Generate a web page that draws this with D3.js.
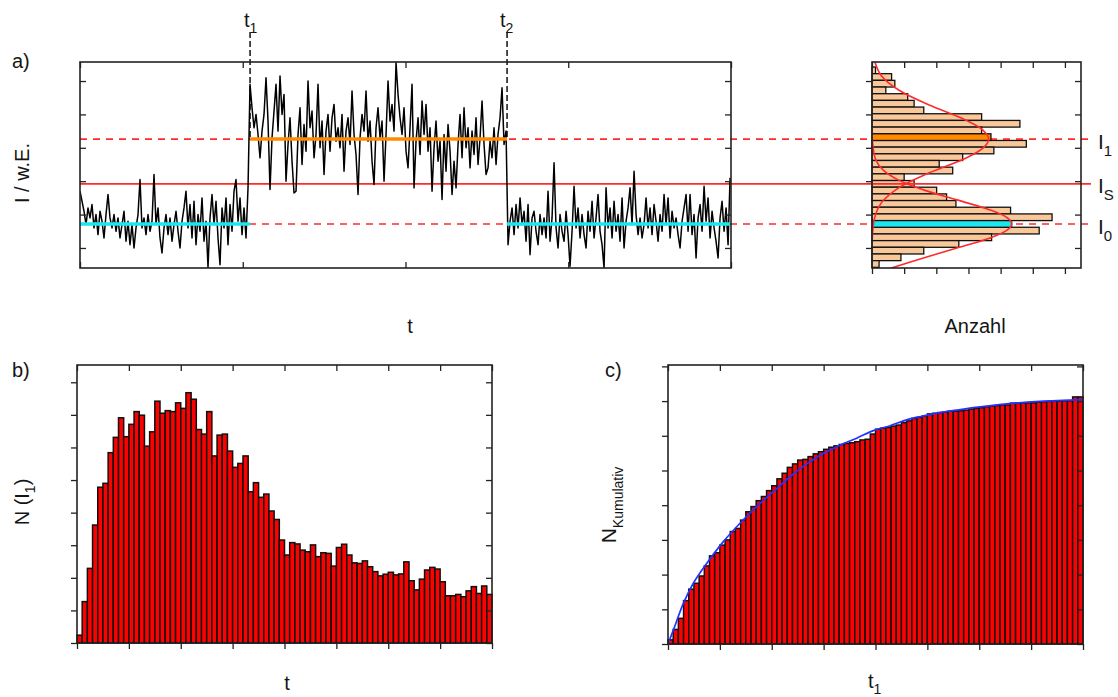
<!DOCTYPE html>
<html><head><meta charset="utf-8">
<script src="https://cdn.jsdelivr.net/npm/d3@7"></script>
<style>
body{margin:0;background:#fff}
text{font-family:Arial,"Liberation Sans",sans-serif;fill:#151515}
</style>
</head><body>
<svg id="c" width="1118" height="697"></svg>
<script>
// ---------------- DATA ----------------
// a) intensity trace (I in arbitrary units), sampled uniformly
const traceLow1 = [2.7,2.4,2.1,1.7,2.2,1.9,2.3,1.6,2.0,1.4,
 2.1,1.8,1.3,2.0,2.6,1.9,1.6,2.0,1.5,1.9,
 1.3,1.7,2.1,1.2,1.8,1.1,1.7,1.0,1.6,2.0,
 3.05,1.6,1.9,1.4,2.0,1.5,1.8,3.2,1.7,2.2,
 1.3,0.85,1.6,2.0,1.4,1.9,1.2,1.7,2.1,1.5,
 1.0,1.8,2.2,2.7,1.6,2.3,1.3,2.4,1.1,2.0,
 1.5,2.5,1.2,1.8,0.42,1.9,2.6,1.7,2.4,1.3,
 0.5,2.2,1.6,2.5,1.1,2.3,1.5,2.7,3.05,1.8,
 2.5,1.4,2.2,1.3,2.8];
const traceHigh = [5.9,5.2,4.6,5.0,4.4,3.7,4.5,5.0,6.1,4.8,
 2.75,4.3,5.1,5.9,4.5,6.15,5.0,5.6,3.0,4.1,
 4.9,3.6,2.65,2.7,4.4,5.2,3.5,4.7,3.9,6.0,
 4.6,5.1,3.7,4.4,5.9,4.0,4.8,3.2,4.5,5.0,
 3.9,4.9,5.3,4.2,4.6,4.0,5.0,3.3,4.5,4.9,
 4.1,5.7,4.4,3.8,2.6,4.3,5.0,4.5,5.7,4.2,
 4.8,3.6,2.9,4.6,5.2,4.3,4.8,3.0,4.4,6.0,
 4.8,5.3,4.5,6.55,5.6,4.9,4.4,5.2,3.9,3.4,
 4.6,5.9,2.8,4.2,4.9,3.8,5.4,4.4,5.3,3.9,
 4.6,2.7,4.0,4.8,3.6,4.2,2.45,4.4,3.3,4.7,
 3.9,2.6,3.6,2.8,4.1,5.0,3.7,5.2,4.0,4.6,
 3.4,4.5,3.8,4.9,3.5,4.3,5.4,4.1,3.2,3.4,
 4.2,3.7,4.6,3.5,4.4,4.9,5.8,4.1,4.5];
const traceLow2 = [1.1,1.8,2.2,1.4,2.3,1.6,2.5,1.7,2.1,1.2,
 2.3,0.8,1.9,2.1,1.5,1.1,2.0,1.4,1.9,1.3,
 2.7,1.2,1.9,3.55,1.6,1.0,2.0,1.5,1.2,2.1,
 1.4,0.45,1.5,2.85,1.6,2.2,1.3,2.0,1.4,1.0,
 2.1,1.5,2.4,1.3,1.9,2.6,1.5,1.1,0.4,2.8,
 1.6,2.2,1.3,2.4,1.5,2.0,1.2,2.5,1.0,1.8,
 2.2,2.8,1.7,3.3,2.0,1.4,1.9,1.3,1.7,2.5,
 1.6,2.2,1.4,2.3,1.8,1.2,2.0,1.5,2.6,1.7,
 2.5,1.3,2.1,1.6,1.9,1.4,1.0,1.8,2.2,2.6,
 1.5,2.6,1.4,2.0,0.7,1.9,2.3,1.5,2.85,1.8,
 2.5,1.3,2.1,1.6,1.2,0.7,1.9,2.4,1.5,2.2,
 1.1,3.1];
const traceStep = 0.01229;          // time between samples
const traceTimeMax = 4;
const levelI1 = 4.26, levelIS = 2.92, levelI0 = 1.72;
const t1Time = 1.045, t2Time = 2.624;
const traceXTicks = [0,1,2,3,4];
const intensityTicks = [1,2,3,4,5,6];

// a) intensity histogram ("Anzahl")
const histCenters = [6.32,6.12,5.92,5.72,5.52,5.32,5.12,4.92,4.72,4.52,
 4.32,4.12,3.92,3.72,3.52,3.32,3.12,2.92,2.72,2.52,
 2.32,2.12,1.92,1.72,1.52,1.32,1.12,0.92,0.72,0.52];
const histCounts = [0.11,0.61,0.71,0.43,1.11,1.31,1.61,3.41,4.6,3.41,
 3.7,4.8,3.79,2.82,2.09,2.51,1.0,1.31,2.01,2.32,
 2.61,4.31,5.6,4.34,5.2,3.72,2.7,1.61,0.9,0.22];
const histBinWidth = 0.2;
const histXTicks = [0,1,2,3,4,5,6];
// fitted gaussians: [count, intensity]
const fitUpper = [[0.09,6.57],[0.29,6.16],[0.83,5.73],[1.78,5.28],[2.91,4.83],[3.45,4.53],[3.63,4.26],
 [3.45,3.99],[2.91,3.69],[1.78,3.25],[0.83,2.80],[0.29,2.35],[0.08,1.90],[0.01,1.30]];
const fitLower = [[0.01,4.23],[0.12,3.63],[0.35,3.33],[0.81,3.04],[1.6,2.74],[2.64,2.44],[3.67,2.14],
 [4.21,1.90],[4.35,1.72],[4.21,1.54],[3.67,1.30],[2.64,1.00],[1.6,0.70],[0.6,0.40]];

// b) N(I1) histogram
const nI1Values = [0.24,1.27,2.29,3.62,4.78,4.90,5.84,6.31,6.91,6.33,
 6.71,7.10,6.99,6.04,6.48,7.42,7.05,7.13,7.10,7.37,
 7.20,7.68,7.48,6.55,6.41,7.10,5.74,6.38,6.41,5.89,
 5.39,5.51,5.74,4.64,4.92,4.47,4.57,4.05,3.79,3.16,
 2.70,3.08,3.04,2.85,2.80,3.01,2.65,2.77,2.75,2.36,
 2.93,3.03,2.70,2.46,2.44,2.52,2.34,2.19,2.06,2.11,
 2.17,2.09,2.12,2.49,1.91,1.63,1.96,2.24,2.32,2.27,
 1.88,1.45,1.45,1.49,1.42,1.60,1.73,1.52,1.75,1.49];
const binTicks = [0,10,20,30,40,50,60,70,80];
const countTicks = [0,1,2,3,4,5,6,7,8];

// c) cumulative
const cumValues = [0.12,0.42,0.74,1.25,1.58,1.75,1.96,2.25,2.54,2.63,
 2.85,3.00,3.24,3.33,3.57,3.81,3.96,4.13,4.25,4.42,
 4.56,4.76,4.92,5.09,5.19,5.30,5.32,5.40,5.48,5.54,
 5.61,5.67,5.71,5.75,5.78,5.80,5.83,5.88,5.90,6.05,
 6.19,6.22,6.24,6.28,6.31,6.38,6.43,6.50,6.53,6.57,
 6.63,6.65,6.67,6.68,6.71,6.71,6.72,6.74,6.77,6.79,
 6.81,6.84,6.86,6.87,6.89,6.89,6.94,6.94,6.95,6.95,
 6.95,6.97,6.98,6.99,7.00,7.00,7.01,7.01,7.12,7.12];
const cumFit = [[0,0],[1.03,0.40],[2.96,1.17],[4.88,1.75],[7.45,2.32],[10.67,2.95],[13.88,3.48],
 [17.09,3.96],[20.31,4.39],[23.52,4.82],[26.73,5.19],[29.94,5.49],[33.16,5.73],[36.37,5.93],
 [39.58,6.15],[42.80,6.29],[46.01,6.46],[49.22,6.57],[52.43,6.67],[55.65,6.74],[58.86,6.81],
 [65.29,6.92],[71.71,6.99],[80,7.04]];

// ---------------- DRAWING ----------------
const svg = d3.select('#c');
const AX = '#222';
const RED = '#ff2a2a', ORANGE = '#ff8a00', CYAN = '#1de6ee', PEACH = '#f9c89a';

function axes(xs, ys, xt, yt, mode) {
  const [x0, x1] = xs.range(), [y0, y1] = ys.range();
  const L = 6, s = mode === 'in' ? -1 : 1;
  const g = svg.append('g').attr('color', AX);
  const mk = (ax, tr) => g.append('g').attr('transform', tr).call(ax.tickSizeOuter(0).tickFormat(''))
      .call(a => a.select('.domain').remove()).selectAll('line').attr('stroke-width', 1.3);
  mk(d3.axisBottom(xs).tickValues(xt).tickSize(s * L), `translate(0,${y0})`);
  mk(d3.axisTop(xs).tickValues(xt).tickSize(-L), `translate(0,${y1})`);
  mk(d3.axisLeft(ys).tickValues(yt).tickSize(s * L), `translate(${x0},0)`);
  mk(d3.axisRight(ys).tickValues(yt).tickSize(-L), `translate(${x1},0)`);
  g.append('rect').attr('x', x0).attr('y', y1).attr('width', x1 - x0).attr('height', y0 - y1)
    .attr('fill', 'none').attr('stroke', AX).attr('stroke-width', 1.6);
}

function rich(x, y, parts, size, sub, rotate, anchor) {
  const t = svg.append('text').attr('font-size', size).attr('text-anchor', anchor || 'start');
  if (rotate) t.attr('transform', `translate(${x},${y}) rotate(-90)`);
  else t.attr('x', x).attr('y', y);
  let down = false;
  parts.forEach(([s, isSub]) => {
    const ts = t.append('tspan').text(s);
    if (isSub) { ts.attr('font-size', sub); if (!down) { ts.attr('dy', size * 0.32); down = true; } }
    else if (down) { ts.attr('dy', -size * 0.32); down = false; }
  });
}

// ---- panel a ----
const xA = d3.scaleLinear().domain([0, traceTimeMax]).range([80, 731]);
const yA = d3.scaleLinear().domain([0.4, 6.57]).range([268, 62]);
const xH = d3.scaleLinear().domain([0, 6.5]).range([872, 1081]);

svg.append('clipPath').attr('id', 'clipA').append('rect').attr('x', 80).attr('y', 62).attr('width', 651).attr('height', 206);
svg.append('clipPath').attr('id', 'clipH').append('rect').attr('x', 872).attr('y', 61).attr('width', 209).attr('height', 207);

// histogram bars
const hb = histBinWidth / 2;
const isHi = d => Math.abs(d - levelI1) < 0.1 || Math.abs(d - levelI0) < 0.1;
function histBars(sel) {
  sel.attr('x', xH(0))
    .attr('y', d => yA(d.c + hb))
    .attr('width', d => xH(d.n) - xH(0))
    .attr('height', d => yA(d.c - hb) - yA(d.c + hb))
    .attr('fill', d => Math.abs(d.c - levelI1) < 0.1 ? ORANGE : Math.abs(d.c - levelI0) < 0.1 ? CYAN : PEACH)
    .attr('stroke', '#111').attr('stroke-width', 1.3);
}
const histData = histCenters.map((c, i) => ({c, n: histCounts[i]}));
svg.append('g').selectAll('rect').data(histData.filter(d => !isHi(d.c))).join('rect').call(histBars);

// level lines
const lineEnd = 1091;
[[levelI1, '7,6'], [levelI0, '7,6'], [levelIS, null]].forEach(([lv, dash]) => {
  const l = svg.append('line').attr('x1', xA(0)).attr('x2', lineEnd)
    .attr('y1', yA(lv)).attr('y2', yA(lv)).attr('stroke', RED).attr('stroke-width', 1.6);
  if (dash) l.attr('stroke-dasharray', dash);
});
svg.append('g').selectAll('rect').data(histData.filter(d => isHi(d.c))).join('rect').call(histBars);

// t1 / t2 dashed markers
[t1Time, t2Time].forEach(t => {
  svg.append('line').attr('x1', xA(t)).attr('x2', xA(t)).attr('y1', 32).attr('y2', yA(levelI1))
    .attr('stroke', '#111').attr('stroke-width', 1.5).attr('stroke-dasharray', '6,3');
});

// trace
const traceValues = traceLow1.concat(traceHigh, traceLow2);
svg.append('path').datum(traceValues)
  .attr('clip-path', 'url(#clipA)')
  .attr('d', d3.line().x((d, i) => xA(i * traceStep)).y(d => yA(d)))
  .attr('fill', 'none').attr('stroke', '#000').attr('stroke-width', 1.5).attr('stroke-linejoin', 'round');

// state levels
const segs = [[0, t1Time, levelI0, CYAN], [t1Time, t2Time, levelI1, ORANGE], [t2Time, traceValues.length * traceStep - traceStep, levelI0, CYAN]];
segs.forEach(([a, b, lv, c]) => {
  svg.append('line').attr('x1', xA(a)).attr('x2', xA(b)).attr('y1', yA(lv)).attr('y2', yA(lv))
    .attr('stroke', c).attr('stroke-width', 3.5);
});

// gaussian fits
const fitLine = d3.line().x(d => xH(d[0])).y(d => yA(d[1])).curve(d3.curveCatmullRom);
[fitUpper, fitLower].forEach(f => {
  svg.append('path').datum(f).attr('d', fitLine).attr('clip-path', 'url(#clipH)')
    .attr('fill', 'none').attr('stroke', RED).attr('stroke-width', 1.6);
});

axes(xA, yA, traceXTicks, intensityTicks, 'in');
axes(xH, yA, histXTicks, intensityTicks, 'out');

// ---- panel b ----
const xB = d3.scaleLinear().domain([0, 80]).range([77, 492]);
const yB = d3.scaleLinear().domain([0, 8.53]).range([643, 365]);
svg.append('g').selectAll('rect').data(nI1Values).join('rect')
  .attr('x', (d, i) => xB(i)).attr('width', xB(1) - xB(0))
  .attr('y', d => yB(d)).attr('height', d => yB(0) - yB(d))
  .attr('fill', '#ff0000').attr('stroke', '#111').attr('stroke-width', 1.5);
axes(xB, yB, binTicks, countTicks, 'out');

// ---- panel c ----
const xC = d3.scaleLinear().domain([0, 80]).range([668, 1083]);
const yC = d3.scaleLinear().domain([0, 8.04]).range([644, 365]);
svg.append('g').selectAll('rect').data(cumValues).join('rect')
  .attr('x', (d, i) => xC(i)).attr('width', xC(1) - xC(0))
  .attr('y', d => yC(d)).attr('height', d => yC(0) - yC(d))
  .attr('fill', '#ff0000').attr('stroke', '#111').attr('stroke-width', 1.5);
svg.append('path').datum(cumFit)
  .attr('d', d3.line().x(d => xC(d[0])).y(d => yC(d[1])).curve(d3.curveCatmullRom))
  .attr('fill', 'none').attr('stroke', '#2233ff').attr('stroke-width', 1.7);
axes(xC, yC, binTicks, countTicks, 'out');

// ---- text ----
rich(12, 68, [['a)']], 20, 14);
rich(244, 27, [['t'], ['1', true]], 20, 14);
rich(500, 27, [['t'], ['2', true]], 20, 14);
rich(29, 173, [['I / w.E.']], 20, 14, true, 'middle');
rich(410, 333, [['t']], 20, 14, false, 'middle');
rich(975, 333, [['Anzahl']], 20, 14, false, 'middle');
rich(1098, 149, [['I'], ['1', true]], 21, 15);
rich(1098, 193, [['I'], ['S', true]], 21, 15);
rich(1098, 234, [['I'], ['0', true]], 21, 15);
rich(12, 377, [['b)']], 20, 14);
rich(29, 502, [['N (I'], ['1', true], [')']], 20, 14, true, 'middle');
rich(287, 690, [['t']], 20, 14, false, 'middle');
rich(605, 377, [['c)']], 20, 14);
rich(616, 505, [['N'], ['Kumulativ', true]], 21, 14, true, 'middle');
rich(868, 688, [['t'], ['1', true]], 20, 14);
</script>
</body></html>
